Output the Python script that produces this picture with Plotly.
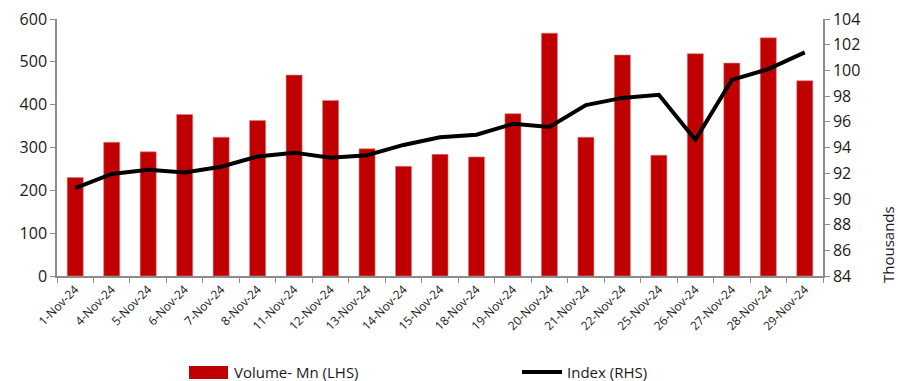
import plotly.graph_objects as go

dates = ["1-Nov-24", "4-Nov-24", "5-Nov-24", "6-Nov-24", "7-Nov-24", "8-Nov-24",
         "11-Nov-24", "12-Nov-24", "13-Nov-24", "14-Nov-24", "15-Nov-24", "18-Nov-24",
         "19-Nov-24", "20-Nov-24", "21-Nov-24", "22-Nov-24", "25-Nov-24", "26-Nov-24",
         "27-Nov-24", "28-Nov-24", "29-Nov-24"]
volume_mn = [230, 312, 290, 377, 324, 363, 469, 410, 297, 256, 284, 278,
             379, 567, 324, 516, 282, 519, 497, 556, 456]
index_thousands = [90.83, 91.94, 92.26, 92.05, 92.5, 93.3, 93.6, 93.2, 93.4, 94.2, 94.8, 95.0,
                   95.84, 95.6, 97.3, 97.86, 98.1, 94.6, 99.26, 100.1, 101.4]

font_family = "Open Sans, Noto Sans, Liberation Sans, sans-serif"
axis_grey = "#8c8c8c"
bar_red = "#C00000"
text_col = "#1a1a1a"

W, H = 898, 381
M_L, M_R, M_T, M_B = 57, 75, 19, 105
plot_w = W - M_L - M_R
plot_h = H - M_T - M_B


def px_to_paper(px, py):
    return (px - M_L) / plot_w, (H - M_B - py) / plot_h


fig = go.Figure()
fig.add_trace(go.Bar(
    x=dates, y=volume_mn, name="Volume- Mn (LHS)",
    marker=dict(color=bar_red, line=dict(color="#d98080", width=0.6)),
    yaxis="y", showlegend=False,
))
fig.add_trace(go.Scatter(
    x=dates, y=index_thousands, name="Index (RHS)", mode="lines",
    line=dict(color="black", width=4),
    yaxis="y2", showlegend=False,
))

# legend drawn below the plot: wide red swatch and thick black line sample
x0, y0 = px_to_paper(189, 366)
x1, y1 = px_to_paper(228, 379)
lx0, ly = px_to_paper(522, 372)
lx1, _ = px_to_paper(562, 372)
tx_a, ty = px_to_paper(232, 372)
tx_b, _ = px_to_paper(565, 372)

shapes = [
    dict(type="rect", xref="paper", yref="paper", x0=x0, x1=x1, y0=y0, y1=y1,
         fillcolor=bar_red, line=dict(width=0)),
    dict(type="line", xref="paper", yref="paper", x0=lx0, x1=lx1, y0=ly, y1=ly,
         line=dict(color="black", width=4)),
]

tk_x, tk_y = px_to_paper(888, 245)
annotations = [
    dict(text="Volume- Mn (LHS)", xref="paper", yref="paper", x=tx_a, y=ty,
         xanchor="left", yanchor="middle", showarrow=False,
         font=dict(size=15, color=text_col)),
    dict(text="Index (RHS)", xref="paper", yref="paper", x=tx_b, y=ty,
         xanchor="left", yanchor="middle", showarrow=False,
         font=dict(size=15, color=text_col)),
    dict(text="Thousands", xref="paper", yref="paper", x=tk_x, y=tk_y,
         xanchor="center", yanchor="middle", textangle=-90, showarrow=False,
         font=dict(size=15, color=text_col)),
]

fig.update_layout(
    width=W, height=H,
    margin=dict(l=M_L, r=M_R, t=M_T, b=M_B, autoexpand=False),
    paper_bgcolor="white", plot_bgcolor="white",
    font=dict(family=font_family, color=text_col),
    bargap=0.56,
    showlegend=False,
    shapes=shapes,
    annotations=annotations,
    xaxis=dict(
        type="category", showgrid=False, showline=True, linecolor=axis_grey, linewidth=1.5,
        ticks="outside", ticklen=5, tickcolor=axis_grey, tickson="boundaries",
        tickangle=-45, tickfont=dict(size=12, color=text_col), automargin=False,
    ),
    yaxis=dict(
        range=[0, 600], dtick=100, showgrid=False, zeroline=False,
        showline=True, linecolor=axis_grey, linewidth=1.5,
        ticks="outside", ticklen=5, tickcolor=axis_grey,
        tickfont=dict(size=16, color=text_col), automargin=False,
    ),
    yaxis2=dict(
        range=[84, 104], dtick=2, overlaying="y", side="right", showgrid=False, zeroline=False,
        showline=True, linecolor=axis_grey, linewidth=1.5,
        ticks="outside", ticklen=5, tickcolor=axis_grey,
        tickfont=dict(size=16, color=text_col), automargin=False,
    ),
)

fig.write_html("out.html")
